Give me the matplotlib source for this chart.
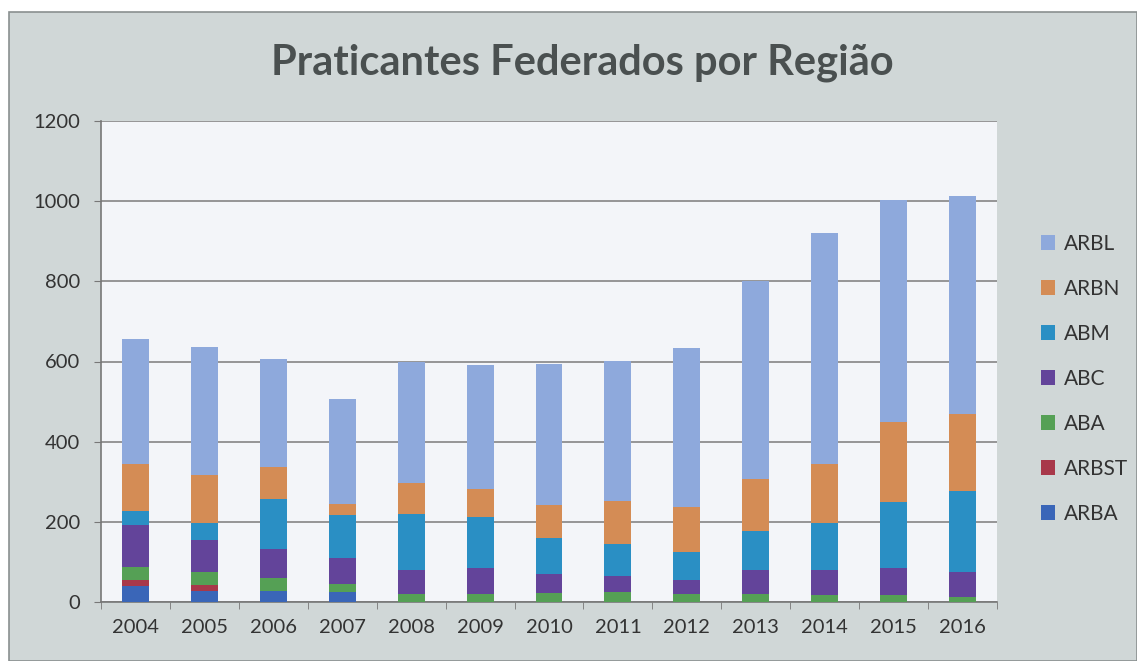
import numpy as np
import matplotlib.pyplot as plt
from matplotlib.patches import Rectangle

# Daten
anos = ['2004', '2005', '2006', '2007', '2008', '2009', '2010',
        '2011', '2012', '2013', '2014', '2015', '2016']
ARBA  = [39, 27, 27, 25, 0, 0, 0, 0, 0, 0, 0, 0, 0]
ARBST = [17, 16, 0, 0, 0, 0, 0, 0, 0, 0, 0, 0, 0]
ABA   = [31, 33, 33, 19, 21, 21, 23, 25, 21, 21, 17, 17, 12]
ABC   = [106, 78, 73, 66, 60, 64, 48, 40, 33, 58, 64, 68, 64]
ABM   = [34, 44, 125, 106, 139, 127, 88, 80, 70, 97, 116, 164, 200]
ARBN  = [117, 118, 78, 29, 78, 70, 84, 106, 112, 132, 147, 200, 193]
ARBL  = [311, 319, 271, 261, 300, 310, 351, 351, 398, 492, 576, 555, 544]

series = [('ARBA', ARBA, '#3a66b8'),
          ('ARBST', ARBST, '#a8384a'),
          ('ABA', ABA, '#55a055'),
          ('ABC', ABC, '#63449a'),
          ('ABM', ABM, '#2a8fc4'),
          ('ARBN', ARBN, '#d48c55'),
          ('ARBL', ARBL, '#8ea9dc')]

plt.rcParams['font.family'] = ['Lato', 'DejaVu Sans']

fig = plt.figure(figsize=(11.37, 6.61), dpi=100)
fig.patch.set_facecolor('white')
# grauer Rahmen des Diagramms
rahmen = Rectangle((9/1137, 0), 1 - 9/1137, 1 - 12/661, transform=fig.transFigure,
                   facecolor='#d0d7d7', edgecolor='#8a9090', linewidth=1.2, zorder=-5)
fig.patches.append(rahmen)

ax = fig.add_axes([101/1137, 59/661, 896/1137, 481/661])
ax.set_facecolor('#f3f5f9')

x = np.arange(len(anos))
bottom = np.zeros(len(anos))
handles = []
for name, vals, col in series:
    h = ax.bar(x, vals, width=0.39, bottom=bottom, color=col, label=name, zorder=3)
    handles.append(h)
    bottom += np.array(vals)

ax.set_xlim(-0.5, len(anos) - 0.5)
ax.set_ylim(0, 1200)
ax.set_yticks(range(0, 1201, 200))
ax.set_xticks(x)
ax.set_xticklabels(anos)
ax.set_xticks(np.arange(-0.5, len(anos), 1), minor=True)
ax.tick_params(axis='x', which='major', length=0, pad=12, labelsize=14.5, labelcolor='#333333')
ax.tick_params(axis='x', which='minor', length=5, color='#777777', direction='out')
ax.tick_params(axis='y', length=5, color='#777777', pad=10, labelsize=14.5, labelcolor='#333333')
ax.grid(axis='y', color='#858585', linewidth=1.2, zorder=1)

for s in ['top', 'right']:
    ax.spines[s].set_visible(False)
for s in ['left', 'bottom']:
    ax.spines[s].set_color('#777777')
    ax.spines[s].set_linewidth(1.2)

fig.text(582/1137, 1 - 63/661, 'Praticantes Federados por Região', ha='center', va='center',
         fontsize=30, fontweight='bold', color='#4a5050')

leg = fig.legend(handles[::-1], [s[0] for s in series][::-1], loc='center left',
                 bbox_to_anchor=(1022/1137, 1 - 379/661), frameon=False, fontsize=15,
                 labelspacing=1.2, handlelength=0.7, handleheight=0.7, handletextpad=0.4)
for t in leg.get_texts():
    t.set_color('#333333')

fig.savefig('out.png', dpi=100, facecolor=fig.get_facecolor())
